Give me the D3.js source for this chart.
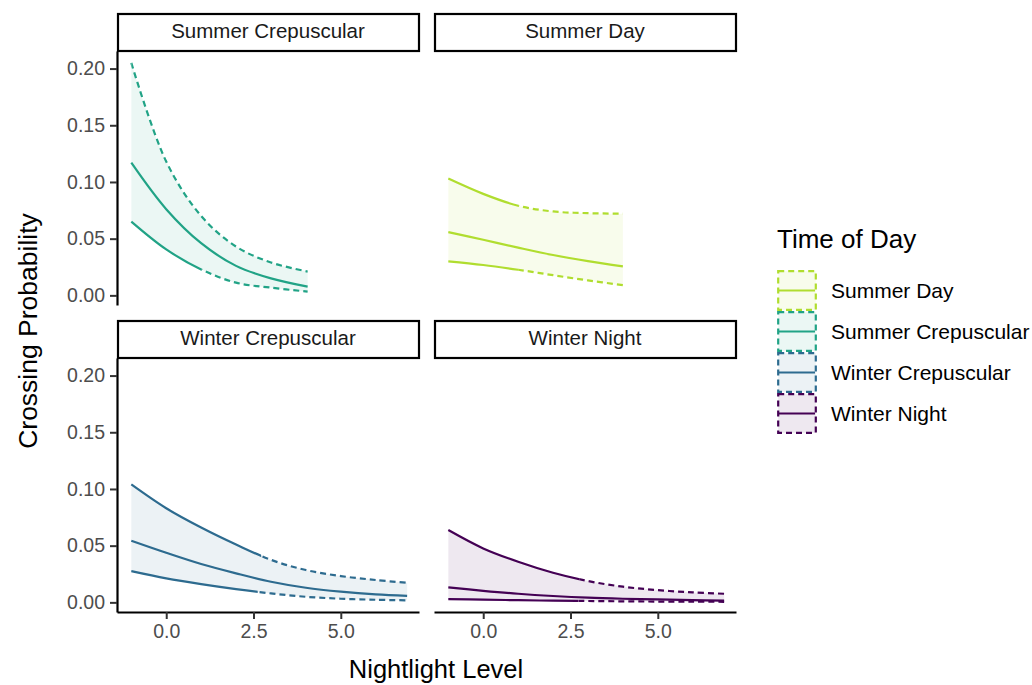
<!DOCTYPE html>
<html lang="en">
  <head>
    <meta charset="UTF-8" />
    <title>Crossing Probability</title>
    <style>
      body {
        margin: 0;
        background: #fff;
      }
      svg text {
        font-family: "Liberation Sans", Arial, sans-serif;
      }
      .band-line {
        fill: none;
        stroke-width: 2.2;
      }
    </style>
  </head>
  <body>
    <script src="https://d3js.org/d3.v7.min.js"></script>
    <script>
      // facet order (panels) and legend order
      const facets = ["Summer Crepuscular", "Summer Day", "Winter Crepuscular", "Winter Night"];
      const legendGroups = ["Summer Day", "Summer Crepuscular", "Winter Crepuscular", "Winter Night"];
      const groupColors = ["#b0dd2f", "#21a386", "#2d6b8f", "#440154"];

      const yTicks = [0, 0.05, 0.1, 0.15, 0.2];
      const xTicks = [0, 2.5, 5];

      // values
      const summerCrepX = [-1, 0, 1, 2, 3, 4.05];
      const summerCrepMean = [0.117, 0.076, 0.046, 0.026, 0.015, 0.0077];
      const summerCrepUpper = [0.205, 0.118, 0.07, 0.043, 0.029, 0.021];
      const summerCrepLower = [0.065, 0.0405, 0.0229, 0.0112, 0.0068, 0.0033];

      const summerDayX = [-1, 0, 1, 2, 3, 4];
      const summerDayMean = [0.0558, 0.049, 0.0421, 0.0356, 0.0302, 0.0256];
      const summerDayUpper = [0.103, 0.0895, 0.079, 0.074, 0.0725, 0.072];
      const summerDayLower = [0.03, 0.0268, 0.0226, 0.0178, 0.0132, 0.009];

      const winterCrepX = [-1, 0, 1, 2, 3, 4, 5, 6, 6.9];
      const winterCrepMean = [0.0543, 0.0437, 0.0338, 0.0256, 0.0182, 0.0129, 0.0094, 0.007, 0.0058];
      const winterCrepUpper = [0.104, 0.083, 0.066, 0.051, 0.0375, 0.0285, 0.0232, 0.0197, 0.0173];
      const winterCrepLower = [0.0276, 0.0212, 0.0161, 0.0117, 0.0079, 0.0049, 0.0032, 0.0023, 0.0018];

      const winterNightX = [-1, 0, 1, 2, 3, 4, 5, 6, 6.9];
      const winterNightMean = [0.0132, 0.0102, 0.0076, 0.0056, 0.0041, 0.0032, 0.0026, 0.002, 0.0016];
      const winterNightUpper = [0.0638, 0.0476, 0.0358, 0.0261, 0.0188, 0.0138, 0.0108, 0.0088, 0.0076];
      const winterNightLower = [0.0029, 0.0024, 0.0019, 0.0015, 0.0012, 0.0009, 0.0007, 0.0006, 0.0005];

      // bounds are solid up to this nightlight level, dashed after
      const upperSolidTo = [-1, 1.0, 2.72, 2.75];
      const lowerSolidTo = [1.0, 1.0, 2.62, 2.72];

      const panelData = [
        { x: summerCrepX, mean: summerCrepMean, upper: summerCrepUpper, lower: summerCrepLower },
        { x: summerDayX, mean: summerDayMean, upper: summerDayUpper, lower: summerDayLower },
        { x: winterCrepX, mean: winterCrepMean, upper: winterCrepUpper, lower: winterCrepLower },
        { x: winterNightX, mean: winterNightMean, upper: winterNightUpper, lower: winterNightLower },
      ];

      const colorOf = (name) => groupColors[legendGroups.indexOf(name)];

      function makeChart() {
        const W = 1032, H = 685;
        const panelW = 302, panelH = 254, stripH = 38;
        const colX = [117, 434];
        const rowTop = [13, 320];
        const curve = d3.curveCatmullRom.alpha(0.5);

        const svg = d3.select("body").append("svg")
          .attr("width", W).attr("height", H);

        const xScale = d3.scaleLinear().domain([-1.41, 7.24]).range([0, panelW]);
        const yScale = d3.scaleLinear().domain([-0.0085, 0.2155]).range([panelH, 0]);

        facets.forEach((name, i) => {
          const col = i % 2, row = Math.floor(i / 2);
          const d = panelData[i];
          const color = colorOf(name);
          const pts = d.x.map((x, k) => ({ x, mean: d.mean[k], upper: d.upper[k], lower: d.lower[k] }));

          // strip
          const strip = svg.append("g")
            .attr("transform", `translate(${colX[col]}, ${rowTop[row]})`);
          strip.append("rect")
            .attr("x", 1).attr("y", 1)
            .attr("width", panelW - 1).attr("height", stripH - 1)
            .attr("fill", "#fff").attr("stroke", "#000").attr("stroke-width", 2.2);
          strip.append("text")
            .attr("x", panelW / 2).attr("y", stripH / 2 + 1)
            .attr("text-anchor", "middle").attr("dominant-baseline", "middle")
            .attr("font-size", 20.5).attr("fill", "#1a1a1a")
            .text(name);

          const g = svg.append("g")
            .attr("transform", `translate(${colX[col]}, ${rowTop[row] + stripH})`);

          // ribbon
          const area = d3.area().curve(curve)
            .x((p) => xScale(p.x)).y0((p) => yScale(p.lower)).y1((p) => yScale(p.upper));
          g.append("path").attr("d", area(pts))
            .attr("fill", color).attr("fill-opacity", 0.09);

          const line = (key) => d3.line().curve(curve)
            .x((p) => xScale(p.x)).y((p) => yScale(p[key]))(pts);

          // clip regions for solid / dashed parts
          const bounds = [["upper", upperSolidTo[i]], ["lower", lowerSolidTo[i]]];
          bounds.forEach(([key, cut], j) => {
            const idS = `clipS${i}${j}`, idD = `clipD${i}${j}`;
            const defs = g.append("defs");
            defs.append("clipPath").attr("id", idS).append("rect")
              .attr("x", -5).attr("y", -5)
              .attr("width", xScale(cut) + 5).attr("height", panelH + 10);
            defs.append("clipPath").attr("id", idD).append("rect")
              .attr("x", xScale(cut)).attr("y", -5)
              .attr("width", panelW - xScale(cut) + 5).attr("height", panelH + 10);
            g.append("path").attr("class", "band-line").attr("d", line(key))
              .attr("stroke", color).attr("clip-path", `url(#${idS})`);
            g.append("path").attr("class", "band-line").attr("d", line(key))
              .attr("stroke", color).attr("stroke-dasharray", "6,4")
              .attr("clip-path", `url(#${idD})`);
          });

          g.append("path").attr("class", "band-line").attr("d", line("mean"))
            .attr("stroke", color);

          // axes
          if (col === 0) {
            const ya = g.append("g").call(
              d3.axisLeft(yScale).tickValues(yTicks).tickFormat(d3.format(".2f"))
                .tickSize(7).tickPadding(5).tickSizeOuter(0)
            );
            ya.select(".domain").attr("stroke", "#000").attr("stroke-width", 2.2);
            ya.selectAll(".tick line").attr("stroke", "#333").attr("stroke-width", 2);
            ya.selectAll(".tick text").attr("font-size", 19.5).attr("fill", "#4d4d4d")
              .attr("font-family", "'Liberation Sans', Arial, sans-serif");
          }
          if (row === 1) {
            const xa = g.append("g").attr("transform", `translate(0, ${panelH})`).call(
              d3.axisBottom(xScale).tickValues(xTicks).tickFormat(d3.format(".1f"))
                .tickSize(7).tickPadding(5).tickSizeOuter(0)
            );
            xa.select(".domain").attr("stroke", "#000").attr("stroke-width", 2.2);
            xa.selectAll(".tick line").attr("stroke", "#333").attr("stroke-width", 2);
            xa.selectAll(".tick text").attr("font-size", 19.5).attr("fill", "#4d4d4d")
              .attr("font-family", "'Liberation Sans', Arial, sans-serif");
          }
        });

        // axis titles
        svg.append("text")
          .attr("x", 436).attr("y", 678)
          .attr("text-anchor", "middle").attr("font-size", 25.5).attr("fill", "#000")
          .text("Nightlight Level");
        svg.append("text")
          .attr("transform", "translate(37, 331) rotate(-90)")
          .attr("text-anchor", "middle").attr("font-size", 26.5).attr("fill", "#000")
          .text("Crossing Probability");

        // legend
        const legend = svg.append("g").attr("transform", "translate(777, 0)");
        legend.append("text").attr("x", 0).attr("y", 248)
          .attr("font-size", 26).attr("fill", "#000").text("Time of Day");
        const keyH = 41, keyW = 40, keyTop = 270;
        legendGroups.forEach((name, i) => {
          const y = keyTop + i * keyH;
          const c = groupColors[i];
          legend.append("rect")
            .attr("x", 1.2).attr("y", y + 1.2)
            .attr("width", keyW - 2.4).attr("height", keyH - 2.4)
            .attr("fill", c).attr("fill-opacity", 0.09)
            .attr("stroke", c).attr("stroke-width", 2.2).attr("stroke-dasharray", "6,4");
          legend.append("line")
            .attr("x1", 2).attr("x2", keyW - 2)
            .attr("y1", y + keyH / 2).attr("y2", y + keyH / 2)
            .attr("stroke", c).attr("stroke-width", 2.2);
          legend.append("text")
            .attr("x", 54).attr("y", y + keyH / 2 + 1.5)
            .attr("dominant-baseline", "middle")
            .attr("font-size", 21).attr("fill", "#000")
            .text(name);
        });
      }

      makeChart();
    </script>
  </body>
</html>
